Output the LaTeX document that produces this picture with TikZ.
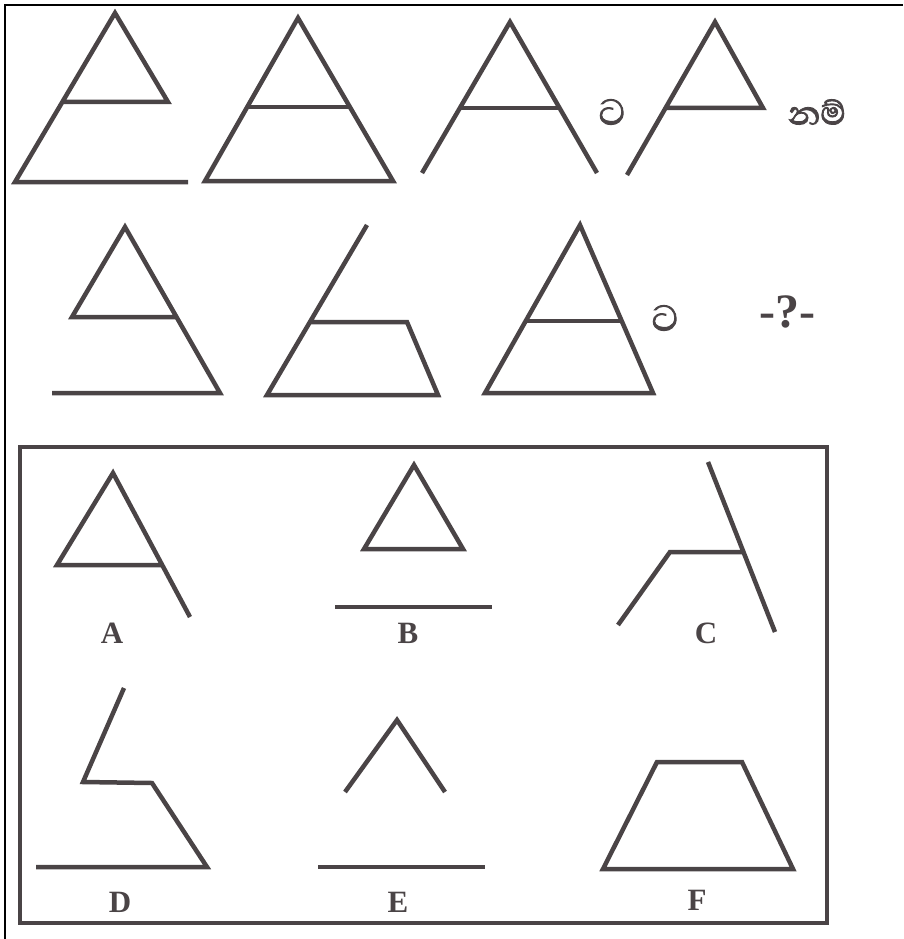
\documentclass[tikz,border=0pt]{standalone}
\usepackage{fontspec}
\setmainfont{Liberation Serif}
\newfontfamily\sinfont[Script=Sinhala, FakeBold=2]{Abhaya Libre}
\usepackage{tikz}
\usetikzlibrary{positioning}
\definecolor{figgray}{RGB}{74,68,70}
\tikzset
{
    fig/.style={draw=figgray, line width=4.5pt, line join=miter, line cap=butt}, % lines of the figures
    optlabel/.style={font=\bfseries\fontsize{31}{31}\selectfont, text=figgray, inner sep=0pt}, % A ... F
    sinword/.style={font=\sinfont\fontsize{46}{46}\selectfont, text=figgray, inner sep=0pt},
}

\begin{document}
\begin{tikzpicture}[x=1pt, y=-1pt]
    \useasboundingbox (0,0) rectangle (903,939);
    % page edges
    \draw[line width=1.5pt] (5,939) -- (5,5) -- (903,5);

    % first row
    \draw[fig] (62,102) -- (168,102) -- (115,13) -- (15,182) -- (188,182);
    \draw[fig] (298,18) -- (205,181) -- (393,181) -- cycle;
    \draw[fig] (247,107) -- (350,107);
    \draw[fig] (422,173) -- (510,22) -- (597,173);
    \draw[fig] (460,108) -- (559.5,108);
    \node[sinword] (ta1) at (612,112) {ට};
    \draw[fig] (665.5,108) -- (763,108) -- (715,22) -- (627,175);
    \node[sinword, font=\sinfont\fontsize{42}{42}\selectfont] (nam) at (817,112) {නම්};

    % second row
    \draw[fig] (176.5,317) -- (72,317) -- (125,227) -- (220,393) -- (52,393);
    \draw[fig] (367,225) -- (267,395) -- (438,395) -- (407,322) -- (310,322);
    \draw[fig] (580,225) -- (485,393) -- (653,393) -- cycle;
    \draw[fig] (525.7,321) -- (621.7,321);
    \node[sinword] (ta2) at (665,318) {ට};
    \node[font=\bfseries\fontsize{48}{48}\selectfont, text=figgray, inner sep=0pt] (qm) at (787,312) {-?-};

    % answers
    \draw[draw=figgray, line width=4pt] (20,447) rectangle (827,923);

    \draw[fig] (190,617) -- (113,473) -- (57,565) -- (162,565);
    \node[optlabel] (la) at (112,633) {A};

    \draw[fig] (414,465) -- (364,549) -- (463,549) -- cycle;
    \draw[fig] (335,607) -- (492,607);
    \node[optlabel] (lb) at (408,633) {B};

    \draw[fig] (708,462) -- (775,632);
    \draw[fig] (618,625) -- (670,552) -- (743.5,552);
    \node[optlabel] (lc) at (706,633) {C};

    \draw[fig] (124,688) -- (83,782) -- (152,783) -- (207,867) -- (36,867);
    \node[optlabel] (ld) at (120,902) {D};

    \draw[fig] (345,792) -- (397,720) -- (445,792);
    \draw[fig] (318,867) -- (485,867);
    \node[optlabel] (le) at (398,902) {E};

    \draw[fig] (657,762) -- (742,762) -- (793,869) -- (603,869) -- cycle;
    \node[optlabel] (lf) at (697,900) {F};
\end{tikzpicture}
\end{document}
